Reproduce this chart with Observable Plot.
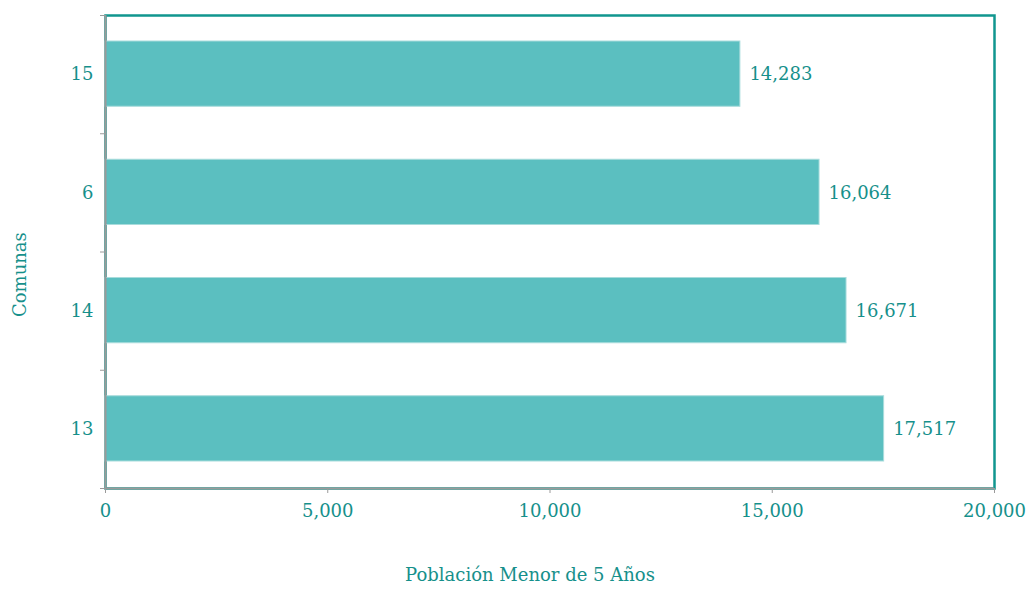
<!DOCTYPE html>
<html>
<head>
<meta charset="utf-8">
<script src="https://cdn.jsdelivr.net/npm/d3@7"></script>
<script src="https://cdn.jsdelivr.net/npm/@observablehq/plot@0.6"></script>
<style>
  html, body { margin: 0; padding: 0; background: #fff; }
  svg { display: block; }
</style>
</head>
<body>
<div id="chart"></div>
<script>
const comunas = ["15", "6", "14", "13"];
const poblacion = [14283, 16064, 16671, 17517];
const xTicks = [0, 5000, 10000, 15000, 20000];
const xLabel = "Población Menor de 5 Años";
const yLabel = "Comunas";

const teal = "#16908b";
const frameTeal = "#11968f";
const barFill = "#5bbfc0";
const gray = "#9a9a9a";
const fmt = d3.format(",");
const FS = 18;

const data = comunas.map((c, i) => ({comuna: c, value: poblacion[i], i}));

const chart = Plot.plot({
  width: 1026,
  height: 590,
  marginLeft: 105,
  marginRight: 32,
  marginTop: 15,
  marginBottom: 102,
  style: {fontFamily: "'DejaVu Serif', serif", fontSize: FS + "px", background: "#fff"},
  x: {domain: [0, 20000], label: null},
  y: {domain: [0, comunas.length], reverse: true, label: null},
  marks: [
    Plot.frame({stroke: frameTeal, strokeWidth: 2.5}),
    Plot.rectX(data, {
      x1: 0, x2: "value",
      y1: d => d.i, y2: d => d.i + 1,
      insetTop: 26, insetBottom: 27,
      fill: barFill, stroke: "#a8dcdc", strokeWidth: 1
    }),
    Plot.text(data, {
      x: "value", y: d => d.i + 0.5, text: d => fmt(d.value),
      dx: 9, textAnchor: "start", fill: teal, fontSize: FS
    }),
    Plot.ruleX([0], {stroke: gray, strokeWidth: 2}),
    Plot.ruleY([comunas.length], {stroke: gray, strokeWidth: 2}),
    Plot.axisX({ticks: xTicks, tickSize: 5, tickFormat: () => "", stroke: gray, label: null}),
    Plot.axisX({ticks: xTicks, tickSize: 0, tickPadding: 16, tickFormat: fmt, color: teal, fontSize: FS, label: null}),
    Plot.axisY({ticks: d3.range(comunas.length + 1), tickSize: 5, tickFormat: () => "", stroke: gray, label: null}),
    Plot.axisY({ticks: comunas.map((c, i) => i + 0.5), tickSize: 0, tickPadding: 12,
      tickFormat: v => comunas[Math.floor(v)], color: teal, fontSize: FS, label: null}),
    Plot.text([xLabel], {frameAnchor: "bottom", dy: 92, dx: -20, fill: teal, fontSize: FS}),
    Plot.text([yLabel], {frameAnchor: "left", dx: -85, dy: 65, rotate: -90, fill: teal, fontSize: FS})
  ]
});
document.getElementById("chart").appendChild(chart);
</script>
</body>
</html>
